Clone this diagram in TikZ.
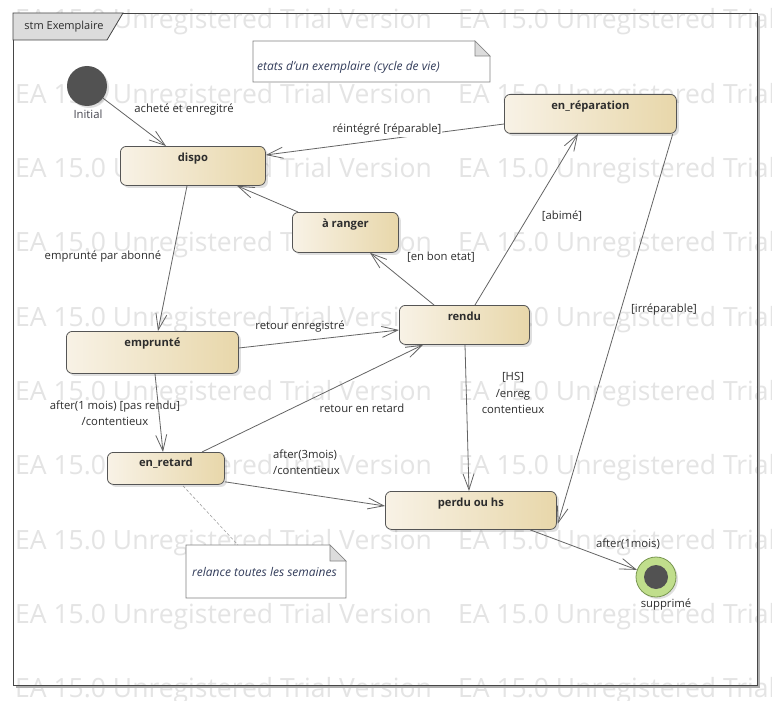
\documentclass[tikz,border=0pt]{standalone}
\usepackage{fontspec}
\setmainfont{Open Sans}
\usetikzlibrary{arrows.meta,shadows,calc}
\definecolor{stL}{RGB}{248,242,230}
\definecolor{stR}{RGB}{232,215,170}
\definecolor{stBorder}{RGB}{85,85,85}
\definecolor{lineC}{RGB}{100,100,100}
\definecolor{txtC}{RGB}{45,45,45}
\definecolor{noteTxt}{RGB}{50,60,90}
\definecolor{wmC}{RGB}{228,228,228}
\definecolor{tabC}{RGB}{220,220,220}
\definecolor{finalC}{RGB}{192,222,140}
\definecolor{finalB}{RGB}{120,150,80}
\definecolor{darkC}{RGB}{82,82,82}
\definecolor{frameShadow}{RGB}{175,175,175}
\definecolor{frameC}{RGB}{70,70,70}
\definecolor{noteB}{RGB}{130,130,130}
\definecolor{dashC}{RGB}{160,160,160}
\definecolor{initTxt}{RGB}{70,70,80}
\tikzset{
  stbox/.style={draw=stBorder, line width=0.8pt, rounded corners=6pt,
    left color=stL, right color=stR, anchor=north west, inner sep=0pt,
    drop shadow={shadow xshift=2.5pt, shadow yshift=-2.5pt, opacity=0.25}},
  sttitle/.style={font=\fontsize{11.2}{13}\bfseries, text=txtC},
  trans/.style={draw=lineC, line width=0.8pt, -{Straight Barb[length=16pt,width=11pt]}},
  elabel/.style={font=\fontsize{11.3}{16.5}\selectfont, text=txtC, inner sep=1pt},
  wm/.style={font=\fontsize{26.5}{30}\selectfont, text=wmC, anchor=base west, inner sep=0pt},
  notebox/.style={draw=noteB, line width=0.7pt, fill=white},
  notetext/.style={font=\fontsize{12}{14}\itshape, text=noteTxt, anchor=west, inner sep=0pt}
}
\begin{document}
\begin{tikzpicture}[x=1pt,y=-1pt]
\useasboundingbox[fill=white] (0,0) rectangle (772,701);
% watermark
\foreach \i in {0,...,9}{
  \node[wm] (wmA\i) at (15,{29+74.3*\i}) {EA 15.0 Unregistered Trial Version};
  \node[wm] (wmB\i) at (458,{29+74.3*\i}) {EA 15.0 Unregistered Trial Version};
}
% frame
\draw[frameShadow, line width=1.6pt] (759,16) -- (759,687) -- (16,687);
\draw[frameC, line width=0.8pt] (13,13) rectangle (757,685);
\filldraw[fill=tabC, draw=frameC, line width=0.8pt] (13,13) -- (123,13) -- (107,40) -- (13,40) -- cycle;
\node[font=\fontsize{11}{13}\selectfont, text=txtC] (frametitle) at (64,27) {stm Exemplaire};

% notes
\draw[notebox] (253,41) -- (475,41) -- (490,56) -- (490,82) -- (253,82) -- cycle;
\filldraw[fill=tabC, draw=noteB, line width=0.7pt] (475,41) -- (490,56) -- (475,56) -- cycle;
\node[notetext] (note1) at (257,67) {etats d'un exemplaire (cycle de vie)};

% initial and final
\node[circle, fill=darkC, minimum size=40pt, inner sep=0pt,
  drop shadow={shadow xshift=2pt, shadow yshift=-2pt, opacity=0.25}] (initial) at (87,86) {};
\node[elabel, text=initTxt] (initlab) at (88,114) {Initial};
\node[circle, fill=finalC, draw=finalB, line width=0.8pt, minimum size=40pt, inner sep=0pt,
  drop shadow={shadow xshift=2pt, shadow yshift=-2pt, opacity=0.25}] (final) at (656,577) {};
\node[circle, fill=darkC, minimum size=24pt, inner sep=0pt] (finalin) at (656,577) {};
\node[elabel] (finlab) at (666,605) {supprimé};

% states
\node[stbox, minimum width=145pt, minimum height=39pt,
  label={[sttitle, anchor=north, inner sep=0pt, yshift=-7pt]north:dispo}] (dispo) at (120,146) {};
\node[stbox, minimum width=172pt, minimum height=39pt,
  label={[sttitle, anchor=north, inner sep=0pt, yshift=-7pt]north:en\_réparation}] (enrep) at (504,94) {};
\node[stbox, minimum width=106pt, minimum height=40pt,
  label={[sttitle, anchor=north, inner sep=0pt, yshift=-7pt]north:à ranger}] (aranger) at (292,212) {};
\node[stbox, minimum width=130pt, minimum height=39pt,
  label={[sttitle, anchor=north, inner sep=0pt, yshift=-7pt]north:rendu}] (rendu) at (399,305) {};
\node[stbox, minimum width=172pt, minimum height=42pt,
  label={[sttitle, anchor=north, inner sep=0pt, yshift=-7pt]north:emprunté}] (emprunte) at (66,331) {};
\node[stbox, minimum width=117pt, minimum height=32pt,
  label={[sttitle, anchor=north, inner sep=0pt, yshift=-6pt]north:en\_retard}] (enretard) at (107,452) {};
\node[stbox, minimum width=171pt, minimum height=38pt,
  label={[sttitle, anchor=north, inner sep=0pt, yshift=-7pt]north:perdu ou hs}] (perdu) at (385,491) {};

% bottom note
\coordinate (note2top) at (238,545);
\draw[notebox] (186,545) -- (330,545) -- (346,561) -- (346,598) -- (186,598) -- cycle;
\filldraw[fill=tabC, draw=noteB, line width=0.7pt] (330,545) -- (346,561) -- (330,561) -- cycle;
\node[notetext] (note2) at (192,572) {relance toutes les semaines};
\draw[dashC, line width=0.6pt, dash pattern=on 3pt off 2pt] ($(enretard.south west)+(76,1)$) -- (note2top);

% transitions
\draw[trans] (initial) -- ($(dispo.north west)+(46,0)$);
\draw[trans] ($(enrep.north west)+(0,30)$) -- ($(dispo.north east)+(0,9)$);
\draw[trans] ($(dispo.south west)+(67,0)$) -- ($(emprunte.north west)+(92,0)$);
\draw[trans] ($(aranger.north west)+(6,0)$) -- ($(dispo.south west)+(117,0)$);
\draw[trans] ($(rendu.north west)+(35,0)$) -- ($(aranger.south west)+(78,0)$);
\draw[trans] ($(rendu.north west)+(76,0)$) -- ($(enrep.south west)+(74,0)$);
\draw[trans] ($(enrep.south east)+(-4,0)$) -- ($(perdu.south east)+(1,-6)$);
\draw[trans] ($(emprunte.north east)+(0,17)$) -- ($(rendu.north west)+(0,25)$);
\draw[trans] ($(enretard.north west)+(95,0)$) -- ($(rendu.south west)+(24,0)$);
\draw[trans] ($(emprunte.south west)+(89,0)$) -- ($(enretard.north west)+(56,0)$);
\draw[trans] ($(enretard.south east)+(0,-3)$) -- ($(perdu.north west)+(0,15)$);
\draw[trans] ($(rendu.south west)+(66,0)$) -- ($(perdu.north west)+(84,0)$);
\draw[trans] ($(perdu.south west)+(145,0)$) -- (final);

% transition labels
\node[elabel] (l1) at (184,110) {acheté et enregitré};
\node[elabel, fill=white] (l2) at (387,130) {réintégré [réparable]};
\node[elabel] (l3) at (103,257) {emprunté par abonné};
\node[elabel] (l4) at (441,257) {[en bon etat]};
\node[elabel] (l5) at (562,216) {[abimé]};
\node[elabel] (l6) at (664,310) {[irréparable]};
\node[elabel] (l7) at (300,327) {retour enregistré};
\node[elabel] (l8) at (362,408) {retour en retard};
\node[elabel, align=center] (l9) at (115,413) {after(1 mois) [pas rendu]\\/contentieux};
\node[elabel, align=left, anchor=west] (l10) at (272,462) {after(3mois)\\/contentieux};
\node[elabel, align=center] (l11) at (513,393) {[HS]\\/enreg\\contentieux};
\node[elabel] (l12) at (628,544) {after(1mois)};
\end{tikzpicture}
\end{document}
